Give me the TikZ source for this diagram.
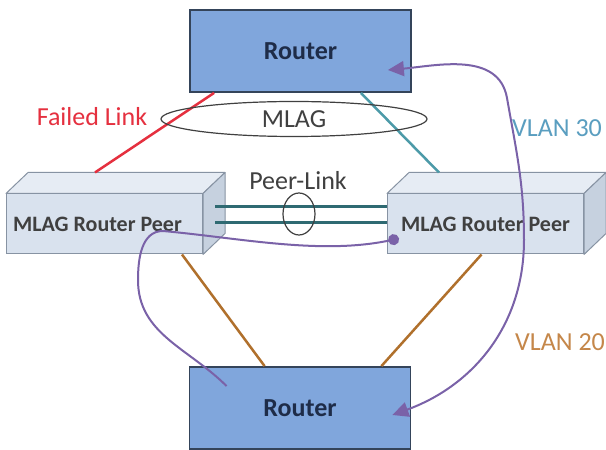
\documentclass[tikz,border=0pt]{standalone}
\usepackage{fontspec}
\setmainfont{Carlito}
\usetikzlibrary{arrows.meta,calc,shapes.geometric}

\definecolor{rtrfill}{HTML}{80A6DC}
\definecolor{rtredge}{HTML}{34445A}
\definecolor{rtrtext}{HTML}{1E2C48}
\definecolor{peerface}{HTML}{D9E2EE}
\definecolor{peertop}{HTML}{E6ECF4}
\definecolor{peerside}{HTML}{C6D1DF}
\definecolor{peeredge}{HTML}{8793A3}
\definecolor{failred}{HTML}{E5303F}
\definecolor{vlanteal}{HTML}{4C9AA8}
\definecolor{vlantxt}{HTML}{5A9EC0}
\definecolor{plinkcol}{HTML}{2F6A72}
\definecolor{vlanorange}{HTML}{B0702C}
\definecolor{orangetxt}{HTML}{C5874A}
\definecolor{flowpurple}{HTML}{7A62A8}
\definecolor{labelgray}{HTML}{404040}

\begin{document}
\begin{tikzpicture}[x=1pt,y=1pt,font=\fontsize{26}{30}\selectfont,
  rtrbox/.style={draw=rtredge,fill=rtrfill,line width=1.8pt,inner sep=0pt,
    minimum width=221pt,minimum height=82pt,text=rtrtext,
    font=\fontsize{26}{30}\selectfont\bfseries},
  peerbox/.style={draw=peeredge,fill=peerface,line width=1pt,inner sep=0pt,
    minimum width=196pt,minimum height=60pt,text=labelgray,
    font=\fontsize{22}{26}\selectfont\bfseries},
  boxface/.style={draw=peeredge,line width=1pt,line join=round},
  link/.style={line width=2.5pt},
  flow/.style={flowpurple,line width=2pt},
  ring/.style={ellipse,draw=labelgray,line width=1.2pt,inner sep=0pt}]
\useasboundingbox[fill=white] (0,0) rectangle (606,450);

% routers
\node[rtrbox] (rtop) at (300.5,399) {Router};
\node[rtrbox] (rbot) at (300,42) {Router};

% MLAG peers, front face as node, top and side drawn on it
\node[peerbox] (lpeer) at (104.5,226) {MLAG Router Peer\kern14pt};
\node[peerbox] (rpeer) at (485.5,226) {MLAG Router Peer};
\foreach \p in {lpeer,rpeer} {
  \filldraw[boxface,fill=peertop] (\p.north west) -- ++(22,21)
    -- ($(\p.north east)+(22,21)$) -- (\p.north east) -- cycle;
  \filldraw[boxface,fill=peerside] (\p.north east) -- ++(22,21)
    -- ($(\p.south east)+(22,21)$) -- (\p.south east) -- cycle;
}

% uplinks
\draw[link,failred] ($(rtop.south west)+(25,0)$) -- ($(lpeer.north west)+(89,21)$);
\draw[link,vlanteal] ($(rtop.south east)+(-51,0)$) -- ($(rpeer.north west)+(52,21)$);
\draw[link,vlanorange] ($(lpeer.south east)+(-21,0)$) -- ($(rbot.north west)+(76,0)$);
\draw[link,vlanorange] ($(rpeer.south)+(-4,0)$) -- ($(rbot.north east)+(-30,0)$);

% peer link
\draw[link,plinkcol,line width=3pt] ($(lpeer.east)+(12,17)$) -- ($(rpeer.west)+(0,17)$);
\draw[link,plinkcol,line width=3pt] ($(lpeer.east)+(12,1)$) -- ($(rpeer.west)+(0,1)$);
\node[ring,minimum width=32pt,minimum height=42pt] (plink) at (299,236) {};
\node[text=labelgray] (plinktxt) at (298,269) {Peer-Link};

% MLAG bundle
\node[ring,minimum width=266pt,minimum height=35pt,text=labelgray] (mlag) at (294,331) {MLAG};
\node[text=failred] (failtxt) at (92,333) {Failed Link};

% traffic paths
\coordinate (loopl) at (138,170);
\coordinate (looptop) at (163,219);
\coordinate (vlanbend) at (524,210);
\coordinate (vlanup) at (507,352);
\draw[flow,-{Circle[length=11pt]}] ($(rbot.north west)+(38,-20)$)
  to[out=135,in=-90] (loopl) to[out=90,in=180] (looptop)
  .. controls (240,212) and (320,195) .. ($(rpeer.south west)+(12,16)$);
\draw[flow,{Triangle[length=16pt,width=15pt]}-{Triangle[length=16pt,width=15pt]}]
  ($(rbot.east)+(-19,-7)$) to[out=20,in=-90] (vlanbend)
  to[out=90,in=-80] (vlanup)
  to[out=100,in=5] ($(rtop.east)+(-24,-19)$);

\node[text=vlantxt] (vlan30) at (557,322) {VLAN 30};
\node[text=orangetxt] (vlan20) at (560,108) {VLAN 20};
\end{tikzpicture}
\end{document}
